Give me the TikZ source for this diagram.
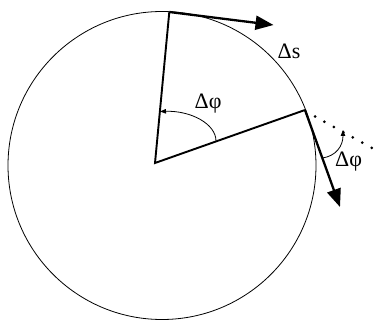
\documentclass[tikz,border=0pt]{standalone}
\usepackage{fontspec}
\setmainfont{Liberation Serif}
\usetikzlibrary{arrows.meta}
\begin{document}
\begin{tikzpicture}[x=1pt,y=-1pt,
  radius line/.style={line width=1.9pt},
  vel arrow/.style={line width=2.3pt,-{Triangle[length=18pt,width=14pt]}},
  angle arc/.style={line width=0.8pt,-{Triangle[length=6pt,width=4.5pt]}},
  lbl/.style={font=\fontsize{22}{22}\selectfont,inner sep=0pt,anchor=base west}]
\useasboundingbox (0,0) rectangle (377,320);
% circle
\draw[line width=0.8pt] (162,165.5) circle (154pt);
% points
\coordinate (O) at (155,163);
\coordinate (A) at (169.3,12);
\coordinate (B) at (305,110);
\coordinate (TA) at (273.5,25);
\coordinate (TB) at (340,207);
\coordinate (D1) at (315,116.5);
\coordinate (E) at (373,148.5);
% radii
\draw[radius line, line join=miter] (A) -- (O) -- (B);
% velocity vectors
\draw[vel arrow] (A) -- (TA);
\draw[vel arrow] (B) -- (TB);
% dotted continuation
\draw[line width=3pt, line cap=round, dash pattern=on 0pt off 10.8pt] (D1) -- (E);
% big angle arc
\coordinate (P1) at (216,141);
\coordinate (P2) at (160,111.5);
\draw[angle arc] (P1) .. controls (216,124) and (191,110.5) .. (P2);
% small angle arc
\coordinate (Q1) at (322.5,158);
\coordinate (Q2) at (343,130);
\draw[angle arc] (Q1) .. controls (336,156) and (343,146) .. (Q2);
% labels
\node[lbl] (ds) at (277.5,58.3) {Δs};
\node[lbl] (phi1) at (194.5,108.3) {Δφ};
\node[lbl] (phi2) at (335,166.7) {Δφ};
\end{tikzpicture}
\end{document}
